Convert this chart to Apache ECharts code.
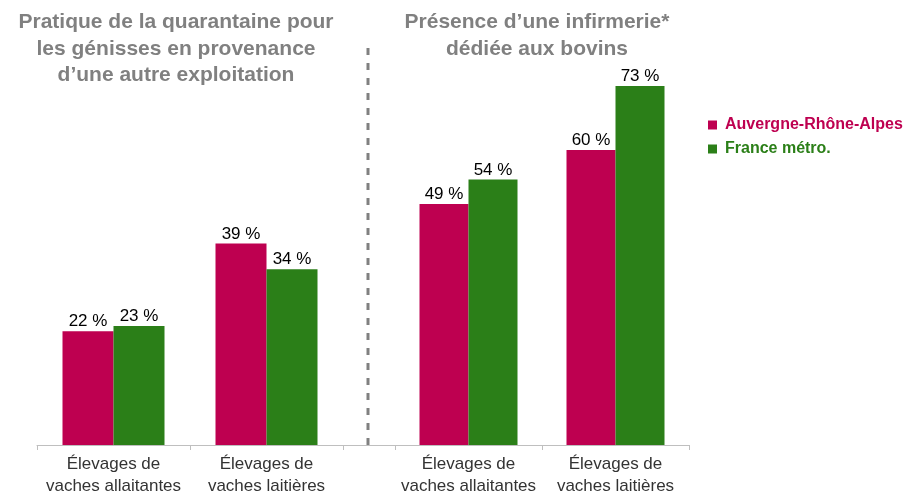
<!DOCTYPE html>
<html>
<head>
<meta charset="utf-8">
<script src="https://cdn.jsdelivr.net/npm/echarts@6/dist/echarts.min.js"></script>
<style>
  html, body { margin: 0; padding: 0; background: #fff; }
  #chart { width: 905px; height: 494px; }
</style>
</head>
<body>
<div id="chart"></div>
<script>
// categories and values
const categories = ["Élevages de\nvaches allaitantes", "Élevages de\nvaches laitières"];
const seriesNames = ["Auvergne-Rhône-Alpes", "France métro."];
const quarantineAura = [22, 39];
const quarantineFrance = [23, 34];
const infirmaryAura = [49, 60];
const infirmaryFrance = [54, 73];

const MAGENTA = "#BE0050";
const GREEN = "#2B7F18";
const FONT = "Liberation Sans, Arial, sans-serif";

const chart = echarts.init(document.getElementById("chart"));

const axisX = (gridIndex) => ({
  type: "category",
  gridIndex: gridIndex,
  data: categories,
  axisLine: { lineStyle: { color: "#BFBFBF", width: 1 } },
  axisTick: { show: true, length: 5, lineStyle: { color: "#BFBFBF" } },
  axisLabel: {
    interval: 0,
    color: "#333",
    fontSize: 17,
    fontFamily: FONT,
    lineHeight: 22,
    margin: 8
  }
});

const axisY = (gridIndex) => ({
  type: "value",
  gridIndex: gridIndex,
  min: 0,
  max: 80,
  show: false,
  splitLine: { show: false }
});

const barSeries = (name, data, idx, color, width) => ({
  name: name,
  type: "bar",
  xAxisIndex: idx,
  yAxisIndex: idx,
  data: data,
  barWidth: width,
  barGap: "0%",
  itemStyle: { color: color },
  label: {
    show: true,
    position: "top",
    distance: 1,
    formatter: "{c} %",
    color: "#000",
    fontSize: 17,
    fontFamily: FONT
  }
});

const titleStyle = { color: "#808080", fontSize: 21, fontWeight: "bold", fontFamily: FONT, lineHeight: 26.5 };

const option = {
  animation: false,
  backgroundColor: "#fff",
  title: [
    {
      text: "Pratique de la quarantaine pour\nles génisses en provenance\nd\u2019une autre exploitation",
      left: 171,
      top: 4,
      textAlign: "center",
      textStyle: titleStyle
    },
    {
      text: "Présence d\u2019une infirmerie*\ndédiée aux bovins",
      left: 532,
      top: 4,
      textAlign: "center",
      textStyle: titleStyle
    }
  ],
  legend: {
    orient: "vertical",
    left: 703,
    top: 111,
    itemWidth: 9,
    itemHeight: 9,
    itemGap: 6,
    icon: "rect",
    data: [
      { name: seriesNames[0], textStyle: { color: MAGENTA } },
      { name: seriesNames[1], textStyle: { color: GREEN } }
    ],
    textStyle: { fontSize: 16, fontWeight: "bold", fontFamily: FONT, lineHeight: 18, padding: [0, 0, 0, 3] }
  },
  grid: [
    { left: 37, width: 306, top: 31.5, height: 413.5, outerBoundsMode: "none" },
    { left: 395, width: 294, top: 51.5, height: 393.5, outerBoundsMode: "none" }
  ],
  xAxis: [axisX(0), axisX(1)],
  yAxis: [axisY(0), axisY(1)],
  series: [
    barSeries(seriesNames[0], quarantineAura, 0, MAGENTA, 51),
    barSeries(seriesNames[1], quarantineFrance, 0, GREEN, 51),
    barSeries(seriesNames[0], infirmaryAura, 1, MAGENTA, 49),
    barSeries(seriesNames[1], infirmaryFrance, 1, GREEN, 49)
  ],
  graphic: [
    {
      type: "line",
      shape: { x1: 343, y1: 445.5, x2: 395, y2: 445.5 },
      style: { stroke: "#BFBFBF", lineWidth: 1 }
    },
    {
      type: "line",
      shape: { x1: 368, y1: 48, x2: 368, y2: 445 },
      style: { stroke: "#808080", lineWidth: 3, lineDash: [7, 8] }
    }
  ]
};

chart.setOption(option);
window.addEventListener("resize", () => chart.resize());
</script>
</body>
</html>
